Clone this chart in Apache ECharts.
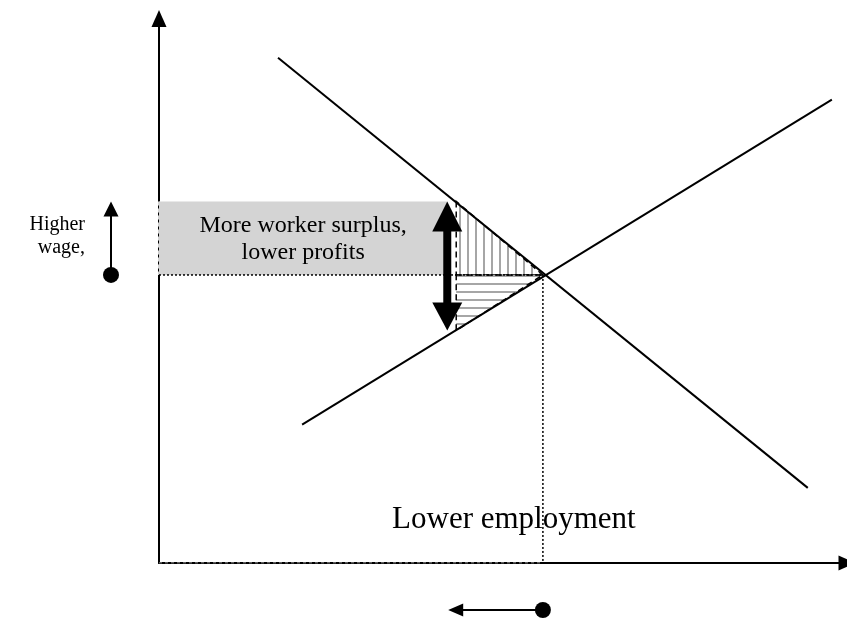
<!DOCTYPE html>
<html>
<head>
<meta charset="utf-8">
<script src="https://cdn.jsdelivr.net/npm/echarts@6/dist/echarts.min.js"></script>
<style>
  html, body { margin: 0; padding: 0; background: #fff; }
  #chart { width: 847px; height: 622px; }
</style>
</head>
<body>
<div id="chart"></div>
<script>
// labour market: quantity of labour (x) against wage (y), arbitrary units 0..100
var demandLine = [[17.3, 92.8], [94.3, 13.8]];
var supplyLine = [[20.8, 25.4], [97.8, 85.1]];
var equilibrium = [55.8, 52.9];      // market wage and employment
var higherWage = 66.4;               // wage after the rise
var lowerEmployment = 43.2;          // demand at the higher wage
var supplyAtLower = 42.7;            // supply price at that employment
var wageArrowQty = 41.9;             // where the big double arrow stands

var surplusText = 'More worker surplus,\nlower profits';
var wageText = ['Higher', 'wage,'];
var employmentText = 'Lower employment';

// stripe patterns for the two triangles
function stripes(vertical) {
  var c = document.createElement('canvas');
  c.width = 8; c.height = 8;
  var g = c.getContext('2d');
  g.fillStyle = '#fff';
  g.fillRect(0, 0, 8, 8);
  g.fillStyle = '#a6a6a6';
  if (vertical) g.fillRect(3, 0, 2, 8); else g.fillRect(0, 3, 8, 2);
  return c;
}
var vStripes = stripes(true), hStripes = stripes(false);

var eqX = equilibrium[0], eqY = equilibrium[1];
var triangles = [
  [lowerEmployment, higherWage, lowerEmployment, eqY, eqX, eqY, 0],
  [lowerEmployment, eqY, eqX, eqY, lowerEmployment, supplyAtLower, 1]
];
var surplusRect = [[0, higherWage, wageArrowQty, eqY]];

var chart = echarts.init(document.getElementById('chart'));

function axis() {
  return {
    type: 'value', min: 0, max: 100,
    splitLine: { show: false }, axisTick: { show: false }, axisLabel: { show: false },
    axisLine: {
      show: true, symbol: ['none', 'triangle'], symbolSize: [15, 17],
      lineStyle: { color: '#000', width: 2 }
    }
  };
}

var option = {
  animation: false,
  backgroundColor: '#fff',
  grid: { left: 159, right: 0, top: 18.5, bottom: 59 },
  xAxis: axis(),
  yAxis: axis(),
  series: [
    {
      // grey surplus block, its dashed left edge lies over the wage axis
      type: 'custom', silent: true, z: 3,
      data: surplusRect,
      renderItem: function (params, api) {
        var a = api.coord([api.value(0), api.value(1)]);
        var b = api.coord([api.value(2), api.value(3)]);
        return {
          type: 'group',
          children: [
            { type: 'rect', shape: { x: a[0], y: a[1], width: b[0] - a[0], height: b[1] - a[1] },
              style: { fill: '#d4d4d4' } },
            { type: 'line', shape: { x1: a[0], y1: a[1], x2: a[0], y2: b[1] },
              style: { stroke: '#d4d4d4', lineWidth: 2, lineDash: [4, 3] } }
          ]
        };
      }
    },
    {
      type: 'custom', silent: true, z: 4,
      data: triangles,
      renderItem: function (params, api) {
        var pts = [];
        for (var i = 0; i < 3; i++) pts.push(api.coord([api.value(i * 2), api.value(i * 2 + 1)]));
        return { type: 'polygon', shape: { points: pts },
                 style: { fill: { image: api.value(6) ? hStripes : vStripes, repeat: 'repeat' },
                          stroke: '#000', lineWidth: 1.5, lineDash: [6, 4] } };
      }
    },
    {
      type: 'line', silent: true, z: 5, showSymbol: false,
      data: [[0, eqY], [eqX, eqY]],
      lineStyle: { color: '#000', width: 1.5, type: [2, 2] }
    },
    {
      type: 'line', silent: true, z: 5, showSymbol: false,
      data: [[eqX, eqY], [eqX, 0]],
      lineStyle: { color: '#000', width: 1.5, type: [2, 2] }
    },
    {
      // faint dotted overlay on the employment axis up to equilibrium
      type: 'line', silent: true, z: 5, showSymbol: false,
      data: [[0, 0], [eqX, 0]],
      lineStyle: { color: '#bdbdbd', width: 1, type: [3, 3] }
    },
    {
      type: 'line', silent: true, z: 6, showSymbol: false,
      data: demandLine, lineStyle: { color: '#000', width: 2 }
    },
    {
      type: 'line', silent: true, z: 6, showSymbol: false,
      data: supplyLine, lineStyle: { color: '#000', width: 2 }
    }
  ]
};
chart.setOption(option);

// annotation arrows and text, placed from the data through the grid
function px(pt) { return chart.convertToPixel({ gridIndex: 0 }, pt); }

function arrowHead(tip, dx, dy, len, wid) {
  var bx = tip[0] - dx * len, by = tip[1] - dy * len;
  return {
    type: 'polygon', z: 100,
    shape: { points: [tip, [bx - dy * wid / 2, by + dx * wid / 2], [bx + dy * wid / 2, by - dx * wid / 2]] },
    style: { fill: '#000' }
  };
}
function shaft(a, b, w) {
  return { type: 'line', z: 100, shape: { x1: a[0], y1: a[1], x2: b[0], y2: b[1] },
           style: { stroke: '#000', lineWidth: w } };
}
function txt(x, y, s, size, align) {
  return { type: 'text', z: 100, x: x, y: y,
           style: { text: s, fontSize: size, fontFamily: 'Liberation Serif', fill: '#000',
                    align: align || 'center', verticalAlign: 'middle', lineHeight: Math.round(size * 1.13) } };
}

var topTip = px([wageArrowQty, higherWage]);
var botTip = px([wageArrowQty, supplyAtLower]);
var eqPx = px(equilibrium);
var lowPx = px([lowerEmployment, higherWage]);
var rectA = px([0, higherWage]), rectB = px([wageArrowQty, eqY]);
var origin = px([0, 0]);

var g = [];
// big double arrow
g.push(shaft([topTip[0], topTip[1] + 28], [botTip[0], botTip[1] - 26], 8));
g.push(arrowHead(topTip, 0, -1, 30, 30));
g.push(arrowHead(botTip, 0, 1, 28, 30));
// small wage arrow on the left
var wx = 111;
g.push(shaft([wx, eqPx[1]], [wx, topTip[1] + 14], 2));
g.push(arrowHead([wx, topTip[1]], 0, -1, 15, 15));
g.push({ type: 'circle', z: 100, shape: { cx: wx, cy: eqPx[1], r: 8 }, style: { fill: '#000' } });
// small employment arrow below the axis
var ey = origin[1] + 47;
g.push(shaft([eqPx[0], ey], [lowPx[0] - 8 + 14, ey], 2));
g.push(arrowHead([lowPx[0] - 8, ey], -1, 0, 15, 13));
g.push({ type: 'circle', z: 100, shape: { cx: eqPx[0], cy: ey, r: 8 }, style: { fill: '#000' } });
// labels
g.push(txt((rectA[0] + rectB[0]) / 2, (rectA[1] + rectB[1]) / 2 + 1, surplusText, 24));
g.push(txt(85, topTip[1] + 23, wageText[0], 20, 'right'));
g.push(txt(85, topTip[1] + 46, wageText[1], 20, 'right'));
g.push(txt(eqPx[0] - 29, origin[1] - 43, employmentText, 31));

chart.setOption({ graphic: { elements: g } });
</script>
</body>
</html>
